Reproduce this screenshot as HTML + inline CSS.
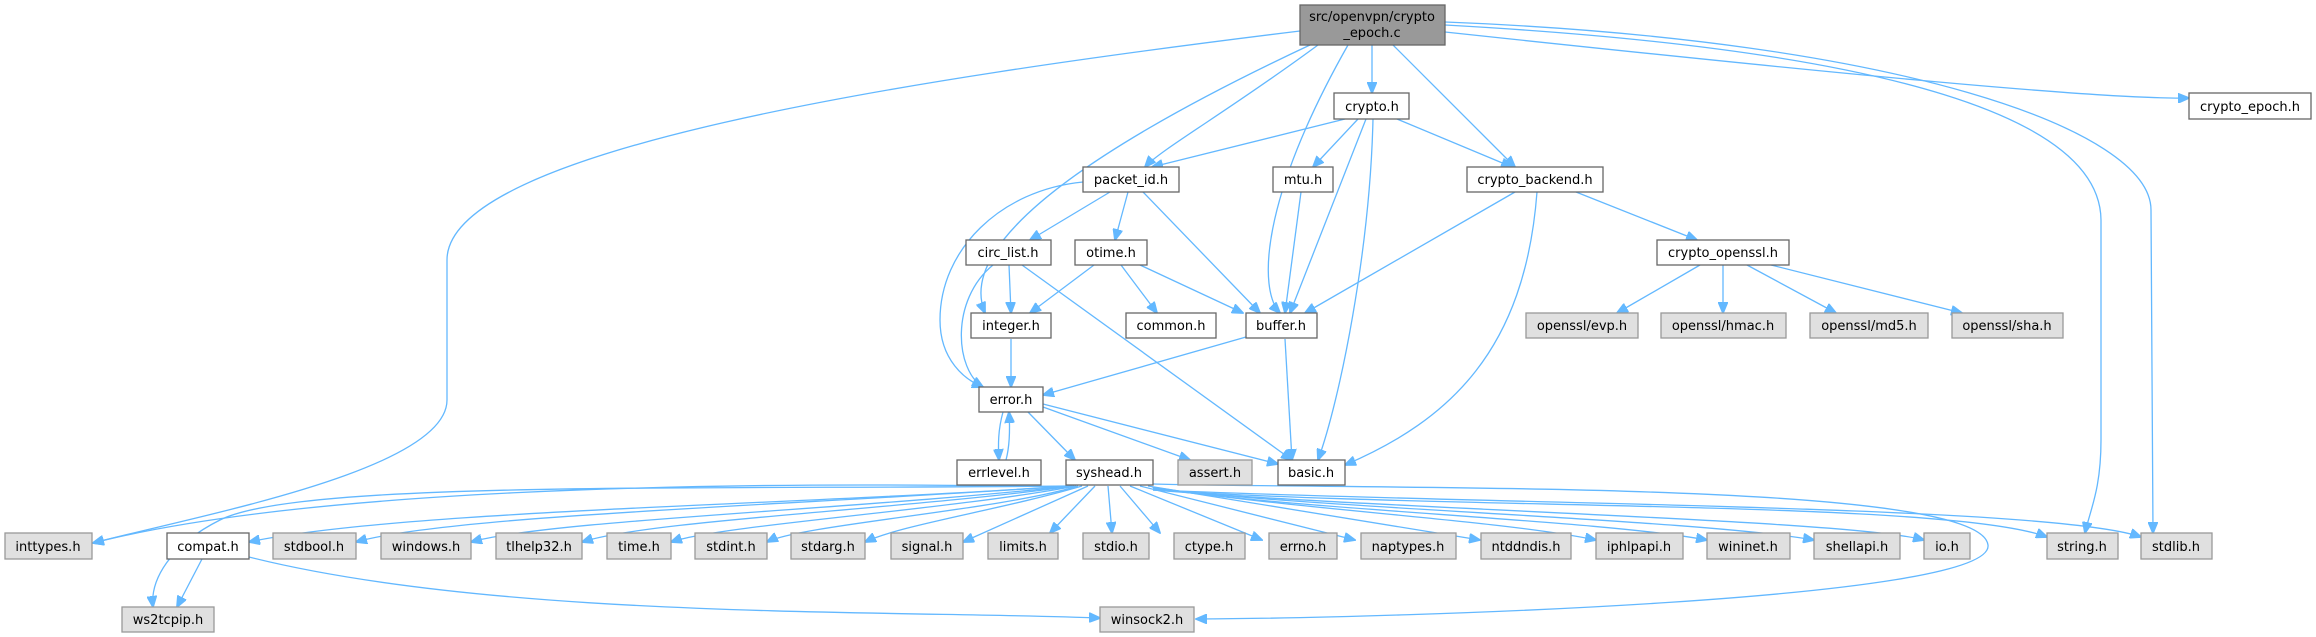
<!DOCTYPE html>
<html><head><meta charset="utf-8"><style>
html,body{margin:0;padding:0;background:#fff;}
svg{display:block;}
text{font-family:"DejaVu Sans","Liberation Sans",sans-serif;font-size:13px;fill:#000;text-anchor:middle;}
.w{fill:#fff;stroke:#666;stroke-width:1.3;}
.g{fill:#e0e0e0;stroke:#999;stroke-width:1.3;}
.r{fill:#999;stroke:#666;stroke-width:1.3;}
path{fill:none;stroke:#63b8ff;stroke-width:1.3;marker-end:url(#a);}
</style></head><body>
<svg width="2316" height="637" viewBox="0 0 2316 637" xmlns="http://www.w3.org/2000/svg">
<defs><marker id="a" markerWidth="12" markerHeight="10" refX="11" refY="5" orient="auto" markerUnits="userSpaceOnUse"><polygon points="0,0 12,5 0,10" fill="#63b8ff" stroke="#63b8ff"/></marker></defs>

<!-- edges from root -->
<path d="M1300,31 C900,80 447,150 447,260 L447,400 C447,470 200,515 93,543"/>
<path d="M1310,45 C1150,120 950,230 985,313"/>
<path d="M1318,45 C1230,110 1160,150 1145,167"/>
<path d="M1348,45 C1260,200 1258,290 1280,313"/>
<path d="M1372,45 L1372,93"/>
<path d="M1393,45 L1515,167"/>
<path d="M1445,32 C1800,70 2100,100 2189,98"/>
<path d="M1445,25 C1900,50 2100,120 2101,220 L2101,440 C2101,490 2090,510 2085,533"/>
<path d="M1445,22 C1900,40 2151,130 2151,210 L2153,533"/>
<!-- crypto.h -->
<path d="M1345,119 L1152,167"/>
<path d="M1358,119 L1313,167"/>
<path d="M1397,119 L1512,167"/>
<path d="M1366,119 L1290,313"/>
<path d="M1373,119 C1370,250 1340,400 1318,460"/>
<!-- packet_id -->
<path d="M1083,182 C1000,190 940,250 940,320 C940,360 965,380 983,387"/>
<path d="M1110,192 L1030,240"/>
<path d="M1128,192 L1115,240"/>
<path d="M1143,192 L1260,313"/>
<!-- mtu -->
<path d="M1301,192 L1285,313"/>
<!-- crypto_backend -->
<path d="M1515,192 L1305,313"/>
<path d="M1537,192 C1525,350 1450,420 1345,465"/>
<path d="M1576,192 L1697,240"/>
<!-- crypto_openssl -->
<path d="M1700,265 L1617,313"/>
<path d="M1723,265 L1723,313"/>
<path d="M1747,265 L1836,313"/>
<path d="M1771,265 L1962,313"/>
<!-- circ_list -->
<path d="M1009,265 L1011,313"/>
<path d="M993,265 C950,300 955,370 983,387"/>
<path d="M1022,265 L1292,460"/>
<!-- otime -->
<path d="M1094,265 L1030,313"/>
<path d="M1121,265 L1157,313"/>
<path d="M1140,265 L1243,313"/>
<!-- integer -->
<path d="M1011,339 L1011,387"/>
<!-- buffer -->
<path d="M1246,337 L1043,395"/>
<path d="M1285,339 L1292,460"/>
<!-- error -->
<path d="M1003,412 C998,430 998,445 999,460"/>
<path d="M1006,460 C1010,445 1010,428 1009,412"/>
<path d="M1028,412 L1075,460"/>
<path d="M1043,407 L1190,460"/>
<path d="M1043,404 L1278,464"/>
<!-- syshead -->
<path d="M1066,486 C700,490 300,480 220,520 C170,545 150,580 153,607"/>
<path d="M1066,487 C700,480 300,490 93,543"/>
<path d="M1068,486 C800,505 400,510 249,542"/>
<path d="M1070,486 C800,505 450,515 356,542"/>
<path d="M1072,486 C850,510 550,520 471,542"/>
<path d="M1074,486 C900,510 650,520 582,542"/>
<path d="M1076,486 C950,510 720,525 671,542"/>
<path d="M1078,486 C1000,510 800,525 767,542"/>
<path d="M1082,486 C1000,510 900,525 865,542"/>
<path d="M1088,486 L963,542"/>
<path d="M1095,486 L1050,533"/>
<path d="M1108,486 L1112,533"/>
<path d="M1120,486 L1160,533"/>
<path d="M1130,486 L1262,540"/>
<path d="M1140,486 L1355,540"/>
<path d="M1148,486 L1480,540"/>
<path d="M1152,487 C1300,510 1500,520 1596,540"/>
<path d="M1153,488 C1300,510 1600,520 1707,540"/>
<path d="M1153,489 C1350,510 1700,520 1814,540"/>
<path d="M1153,490 C1400,510 1850,520 1924,540"/>
<path d="M1153,490 C1450,510 1950,500 2047,537"/>
<path d="M1153,490 C1500,505 2050,505 2141,537"/>
<path d="M1153,484 C1400,490 1980,480 1988,545 C1995,600 1400,618 1196,619"/>
<!-- compat -->
<path d="M202,559 L177,607"/>
<path d="M249,557 C500,620 900,610 1100,618"/>

<!-- nodes -->
<rect class="r" x="1300" y="5" width="145" height="40"/>
<text x="1372" y="21">src/openvpn/crypto</text><text x="1372" y="37">_epoch.c</text>
<g>
<rect class="w" x="1334" y="93" width="75" height="26"/><text x="1372" y="111">crypto.h</text>
<rect class="w" x="2189" y="93" width="122" height="26"/><text x="2250" y="111">crypto_epoch.h</text>
<rect class="w" x="1083" y="167" width="96" height="25"/><text x="1131" y="184">packet_id.h</text>
<rect class="w" x="1273" y="167" width="60" height="25"/><text x="1303" y="184">mtu.h</text>
<rect class="w" x="1467" y="167" width="136" height="25"/><text x="1535" y="184">crypto_backend.h</text>
<rect class="w" x="966" y="240" width="85" height="25"/><text x="1008" y="257">circ_list.h</text>
<rect class="w" x="1075" y="240" width="72" height="25"/><text x="1111" y="257">otime.h</text>
<rect class="w" x="1657" y="240" width="132" height="25"/><text x="1723" y="257">crypto_openssl.h</text>
<rect class="w" x="971" y="313" width="80" height="25"/><text x="1011" y="330">integer.h</text>
<rect class="w" x="1126" y="313" width="90" height="25"/><text x="1171" y="330">common.h</text>
<rect class="w" x="1246" y="313" width="71" height="25"/><text x="1281" y="330">buffer.h</text>
<rect class="g" x="1526" y="313" width="112" height="25"/><text x="1582" y="330">openssl/evp.h</text>
<rect class="g" x="1661" y="313" width="125" height="25"/><text x="1723" y="330">openssl/hmac.h</text>
<rect class="g" x="1810" y="313" width="118" height="25"/><text x="1869" y="330">openssl/md5.h</text>
<rect class="g" x="1952" y="313" width="111" height="25"/><text x="2007" y="330">openssl/sha.h</text>
<rect class="w" x="979" y="387" width="64" height="25"/><text x="1011" y="404">error.h</text>
<rect class="w" x="957" y="460" width="84" height="25"/><text x="999" y="477">errlevel.h</text>
<rect class="w" x="1066" y="460" width="87" height="25"/><text x="1109" y="477">syshead.h</text>
<rect class="g" x="1178" y="460" width="74" height="25"/><text x="1215" y="477">assert.h</text>
<rect class="w" x="1278" y="460" width="67" height="25"/><text x="1311" y="477">basic.h</text>
<rect class="g" x="5" y="533" width="87" height="26"/><text x="48" y="551">inttypes.h</text>
<rect class="w" x="167" y="533" width="82" height="26"/><text x="208" y="551">compat.h</text>
<rect class="g" x="273" y="533" width="83" height="26"/><text x="314" y="551">stdbool.h</text>
<rect class="g" x="381" y="533" width="90" height="26"/><text x="426" y="551">windows.h</text>
<rect class="g" x="496" y="533" width="86" height="26"/><text x="539" y="551">tlhelp32.h</text>
<rect class="g" x="607" y="533" width="64" height="26"/><text x="639" y="551">time.h</text>
<rect class="g" x="695" y="533" width="72" height="26"/><text x="731" y="551">stdint.h</text>
<rect class="g" x="791" y="533" width="74" height="26"/><text x="828" y="551">stdarg.h</text>
<rect class="g" x="891" y="533" width="72" height="26"/><text x="927" y="551">signal.h</text>
<rect class="g" x="988" y="533" width="70" height="26"/><text x="1023" y="551">limits.h</text>
<rect class="g" x="1083" y="533" width="66" height="26"/><text x="1116" y="551">stdio.h</text>
<rect class="g" x="1174" y="533" width="71" height="26"/><text x="1209" y="551">ctype.h</text>
<rect class="g" x="1269" y="533" width="68" height="26"/><text x="1303" y="551">errno.h</text>
<rect class="g" x="1361" y="533" width="95" height="26"/><text x="1408" y="551">naptypes.h</text>
<rect class="g" x="1481" y="533" width="90" height="26"/><text x="1526" y="551">ntddndis.h</text>
<rect class="g" x="1596" y="533" width="87" height="26"/><text x="1639" y="551">iphlpapi.h</text>
<rect class="g" x="1707" y="533" width="83" height="26"/><text x="1748" y="551">wininet.h</text>
<rect class="g" x="1814" y="533" width="86" height="26"/><text x="1857" y="551">shellapi.h</text>
<rect class="g" x="1924" y="533" width="46" height="26"/><text x="1947" y="551">io.h</text>
<rect class="g" x="2047" y="533" width="71" height="26"/><text x="2082" y="551">string.h</text>
<rect class="g" x="2141" y="533" width="71" height="26"/><text x="2176" y="551">stdlib.h</text>
<rect class="g" x="122" y="607" width="92" height="25"/><text x="168" y="624">ws2tcpip.h</text>
<rect class="g" x="1100" y="607" width="94" height="25"/><text x="1147" y="624">winsock2.h</text>
</g>
</svg>
</body></html>
